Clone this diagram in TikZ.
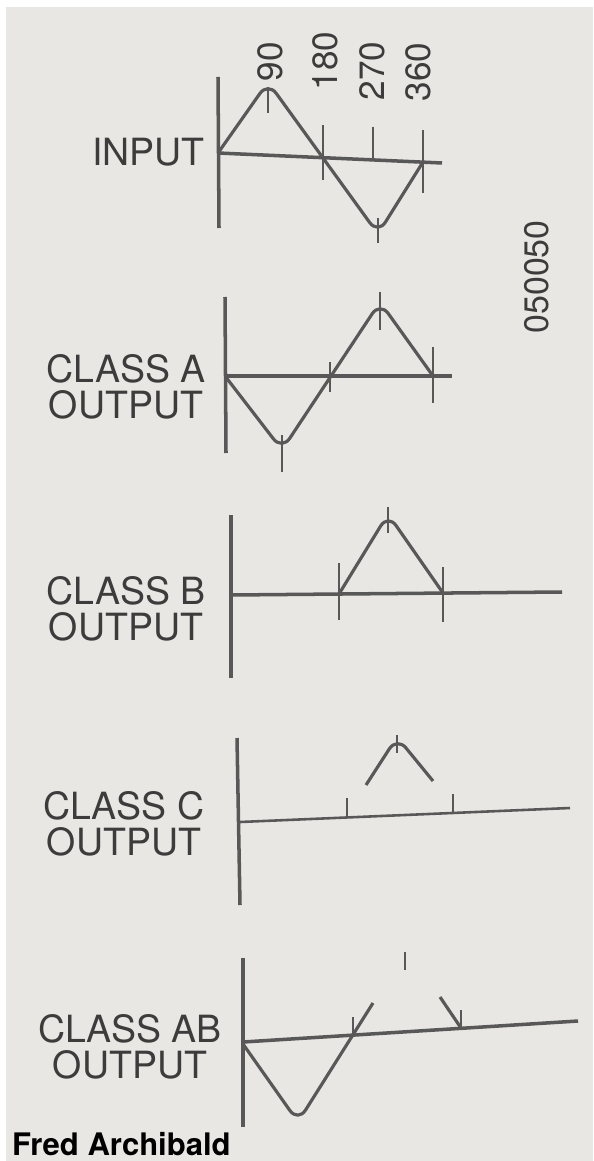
\documentclass[tikz,border=0pt]{standalone}
\usepackage{fontspec}
\setmainfont{TeX Gyre Heros}
\usepackage{tikz}

\definecolor{paper}{RGB}{233,231,227}
\definecolor{ink}{RGB}{88,88,88}
\definecolor{txt}{RGB}{60,60,60}

\begin{document}
\begin{tikzpicture}[x=0.03cm,y=-0.03cm,
    axis/.style={ink,line width=3pt},
    wave/.style={ink,line width=2.7pt,rounded corners=12pt,line join=round},
    tick/.style={ink,line width=1.8pt},
    lbl/.style={txt,align=center,inner sep=0pt,font=\fontsize{32}{30.5}\selectfont},
    deg/.style={txt,rotate=90,inner sep=0pt,font=\fontsize{30}{30}\selectfont}]

% Page
\fill[white] (0,0) rectangle (593,1161);
\fill[paper] (6,7) rectangle (593,1161);
\useasboundingbox (0,0) rectangle (593,1161);

% Input
\draw[axis] (218,77) -- (219,228);
\draw[axis] (218,153) -- (442,163);
\draw[wave] (218,153) -- (268,82) -- (378,234) -- (423,162);
\draw[tick] (268,87) -- (268,113);
\draw[tick] (323,125) -- (323,180);
\draw[tick] (373,127) -- (373,161);
\draw[tick] (423,130) -- (423,193);
\draw[tick] (378,218) -- (378,243);
\node[lbl,anchor=east] (inlbl) at (205,152) {INPUT};
\node[deg] (d90) at (270,62) {90};
\node[deg] (d180) at (325,61) {180};
\node[deg] (d270) at (372,71) {270};
\node[deg] (d360) at (418,72) {360};
\node[deg,font=\fontsize{29}{29}\selectfont] (figno) at (537,277) {050050};

% Class A
\draw[axis] (225,297) -- (226,453);
\draw[axis] (225,376) -- (452,376);
\draw[wave] (225,376) -- (282,450) -- (380,302) -- (433,376);
\draw[tick] (282,435) -- (282,472);
\draw[tick] (330,362) -- (330,392);
\draw[tick] (380,292) -- (380,330);
\draw[tick] (433,347) -- (433,403);
\node[lbl] (albl) at (126,387) {CLASS A\\OUTPUT};

% Class B
\draw[axis] (231,515) -- (231,678);
\draw[axis] (231,595) -- (562,592);
\draw[wave] (339,594) -- (388,514) -- (443,593);
\draw[tick] (339,563) -- (339,620);
\draw[tick] (388,507) -- (388,533);
\draw[tick] (443,567) -- (443,622);
\node[lbl] (blbl) at (126,609) {CLASS B\\OUTPUT};

% Class C
\draw[axis] (237,738) -- (240,905);
\draw[ink,line width=2.2pt] (240,822) -- (570,808);
\draw[wave] (366,785) -- (397,737) -- (433,781);
\draw[tick] (347,798) -- (347,818);
\draw[tick] (453,794) -- (453,813);
\draw[tick] (397,735) -- (397,753);
\node[lbl] (clbl) at (124,824) {CLASS C\\OUTPUT};

% Class AB
\draw[axis] (243,958) -- (243,1127);
\draw[axis] (243,1042) -- (578,1021);
\draw[wave] (243,1044) -- (298,1122) -- (373,1003);
\draw[wave] (440,997) -- (461,1028);
\draw[tick] (353,1017) -- (353,1035);
\draw[tick] (461,1010) -- (461,1028);
\draw[tick] (405,952) -- (405,970);
\node[lbl] (ablbl) at (130,1047) {CLASS AB\\OUTPUT};

% Credit
\node[anchor=base west,inner sep=0pt,font=\bfseries\fontsize{26.5}{26.5}\selectfont] (credit) at (12,1155) {Fred Archibald};

\end{tikzpicture}
\end{document}
